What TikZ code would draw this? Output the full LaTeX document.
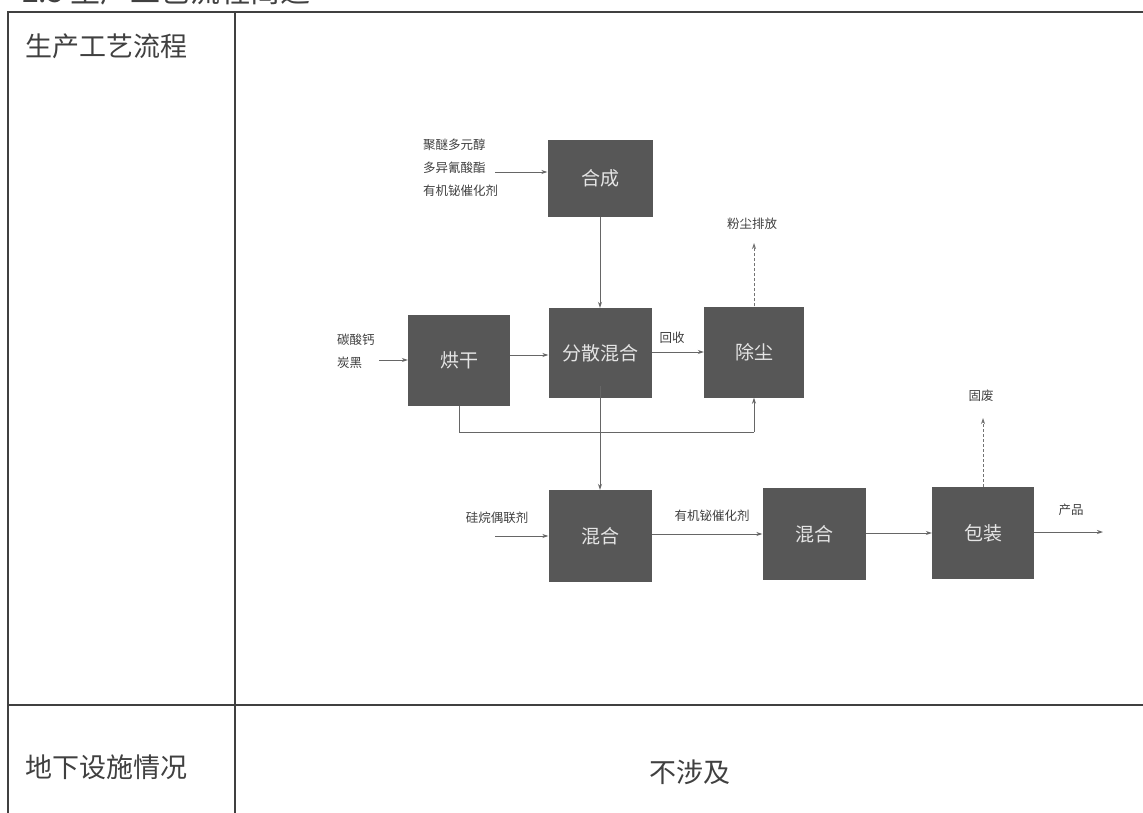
\documentclass[tikz,border=0pt]{standalone}
\usepackage{fontspec}
\setmainfont{Noto Sans CJK SC}
\usetikzlibrary{arrows.meta}
\begin{document}
\begin{tikzpicture}[x=1pt,y=-1pt,
  proc/.style={draw=none,fill=black!66,text=black!10,font=\fontsize{19}{22}\selectfont,inner sep=0pt},
  lab/.style={font=\fontsize{12.5}{15}\selectfont,text=black!75,inner sep=1pt,align=left},
  flow/.style={draw=black!60,line width=0.9pt,-{Stealth[length=6pt,width=4pt]}},
  plain/.style={draw=black!60,line width=0.9pt},
  dflow/.style={draw=black!55,line width=0.8pt,densely dashed,-{Stealth[length=6pt,width=4pt]}},
  grid/.style={draw=black!75,line width=1.4pt},
  cell/.style={font=\fontsize{27}{31}\selectfont,text=black!75,inner sep=0pt}]
\useasboundingbox (0,0) rectangle (1143,812);
\clip (0,0) rectangle (1143,812);
\fill[white] (0,0) rectangle (1143,812);
% partially visible title (cut off at the top edge, as in the reference)
\node[cell,anchor=west,font=\fontsize{30}{34}\selectfont] (title) at (22,-9) {2.5 生产工艺流程简述};
% table
\draw[grid] (1150,12) -- (8,12) -- (8,820);
\draw[grid] (235,12) -- (235,820);
\draw[grid] (8,705) -- (1150,705);
\node[cell,anchor=west] (c1) at (25,46) {生产工艺流程};
\node[cell,anchor=west] (c2) at (25,767) {地下设施情况};
\node[cell] (c3) at (690,772) {不涉及};
% process boxes
\node[proc,minimum width=105pt,minimum height=77pt] (hc) at (600,178) {合成};
\node[proc,minimum width=102pt,minimum height=91pt] (hg) at (459,360) {烘干};
\node[proc,minimum width=103pt,minimum height=90pt] (fs) at (600,353) {分散混合};
\node[proc,minimum width=100pt,minimum height=91pt] (cc) at (754,352) {除尘};
\node[proc,minimum width=103pt,minimum height=92pt] (hh1) at (600,536) {混合};
\node[proc,minimum width=103pt,minimum height=92pt] (hh2) at (814,534) {混合};
\node[proc,minimum width=102pt,minimum height=92pt] (bz) at (983,533) {包装};
% labels
\node[lab,anchor=west,font=\fontsize{12.5}{23}\selectfont] (in1) at (422,168) {聚醚多元醇\\多异氰酸酯\\有机铋催化剂};
\node[lab,anchor=west,font=\fontsize{12.5}{23}\selectfont] (in2) at (336,351) {碳酸钙\\炭黑};
\node[lab] (hs) at (672,338) {回收};
\node[lab] (fc) at (752,224) {粉尘排放};
\node[lab] (gl) at (497,518) {硅烷偶联剂};
\node[lab] (yj) at (712,516) {有机铋催化剂};
\node[lab] (gf) at (981,396) {固废};
\node[lab] (cp) at (1071,510) {产品};
\coordinate (e1) at (495,172);
\coordinate (e2) at (379,360);
\coordinate (e3) at (495,536);
\coordinate (fcb) at (754,243);
\coordinate (gfb) at (983,418);
\coordinate (out) at (1103,532);
\coordinate (jl) at (459,432);
\coordinate (jr) at (754,432);
% connectors
\draw[flow] (e1) -- (e1 -| hc.west);
\draw[flow] (hc.south) -- (fs.north);
\draw[flow] (e2) -- (e2 -| hg.west);
\draw[flow] (hg.east |- 0,355) -- (fs.west |- 0,355);
\draw[flow] (fs.east |- 0,352) -- (cc.west |- 0,352);
\draw[dflow] (cc.north) -- (fcb);
\draw[plain] (hg.south) -- (jl) -- (jr);
\draw[flow] (jr) -- (cc.south);
\draw[flow] ([yshift=12pt]fs.south) -- (hh1.north);
\draw[flow] (e3) -- (e3 -| hh1.west);
\draw[flow] (hh1.east |- 0,534) -- (hh2.west |- 0,534);
\draw[flow] (hh2.east |- 0,533) -- (bz.west |- 0,533);
\draw[dflow] (bz.north) -- (gfb);
\draw[flow] (bz.east |- out) -- (out);
\end{tikzpicture}
\end{document}
